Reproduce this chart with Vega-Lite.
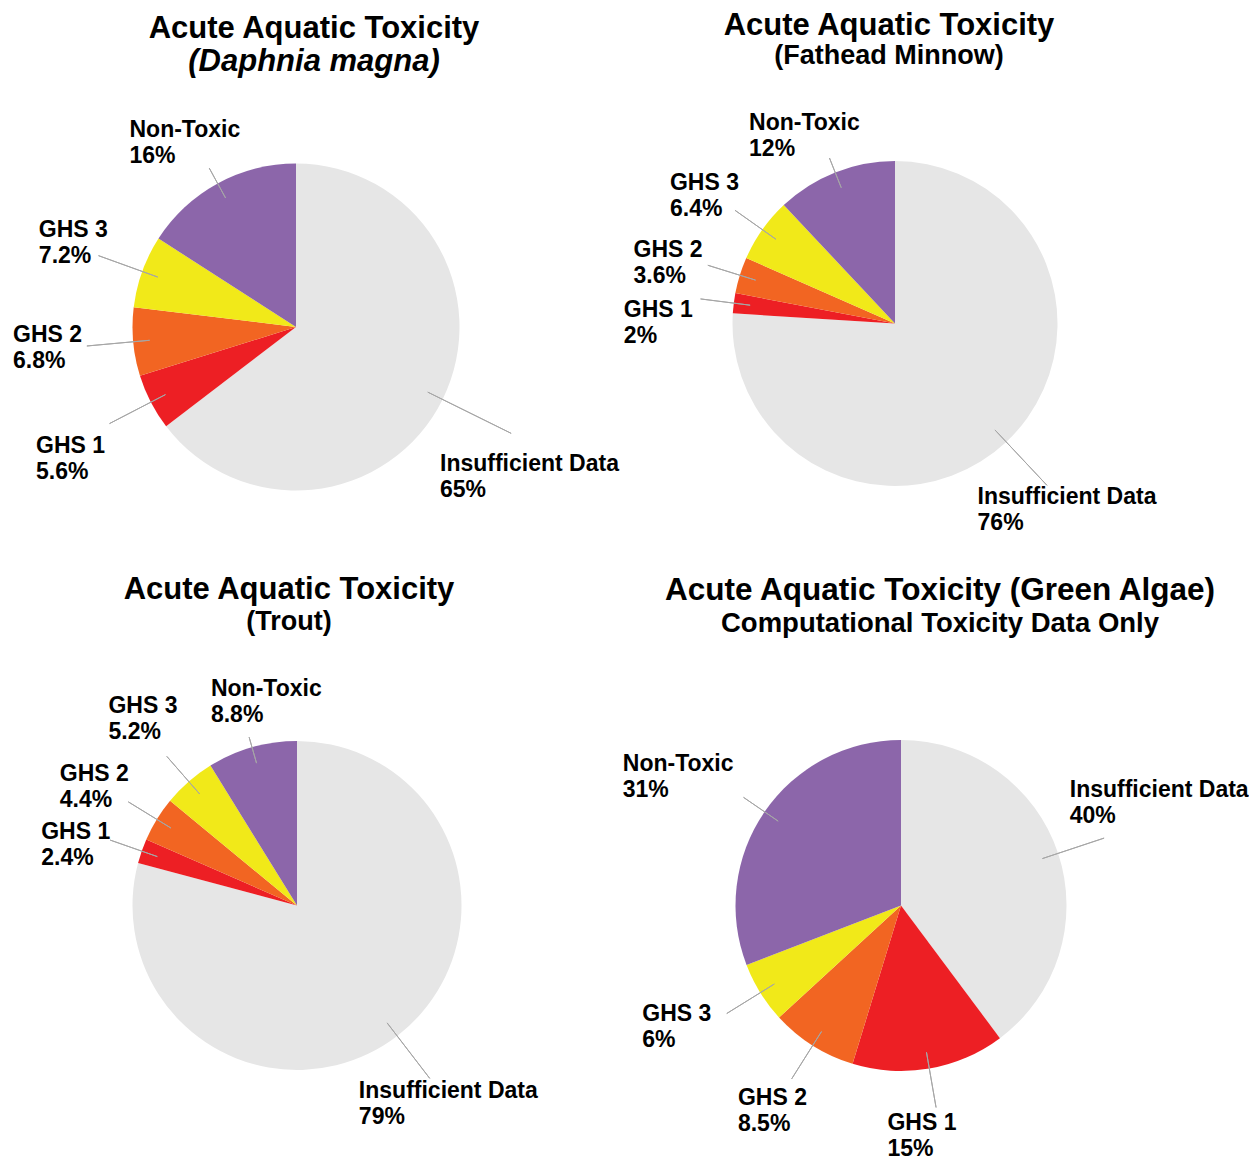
{
  "$schema": "https://vega.github.io/schema/vega-lite/v6.json",
  "padding": 0,
  "bounds": "flush",
  "spacing": 0,
  "columns": 2,
  "background": "white",
  "config": {
    "view": {"stroke": null},
    "font": "Liberation Sans",
    "title": {
      "font": "Liberation Sans",
      "fontSize": 31,
      "fontWeight": "bold",
      "color": "#000000",
      "subtitleFont": "Liberation Sans",
      "subtitleFontSize": 27,
      "subtitleFontWeight": "bold",
      "subtitleColor": "#000000",
      "subtitlePadding": 0,
      "anchor": "middle",
      "frame": "group"
    }
  },
  "data": {
    "values": [
      {"panel": "daphnia", "category": "Insufficient Data", "rank": 1, "share": 0.65},
      {"panel": "daphnia", "category": "GHS 1", "rank": 2, "share": 0.056},
      {"panel": "daphnia", "category": "GHS 2", "rank": 3, "share": 0.068},
      {"panel": "daphnia", "category": "GHS 3", "rank": 4, "share": 0.072},
      {"panel": "daphnia", "category": "Non-Toxic", "rank": 5, "share": 0.16},
      {"panel": "fathead", "category": "Insufficient Data", "rank": 1, "share": 0.76},
      {"panel": "fathead", "category": "GHS 1", "rank": 2, "share": 0.02},
      {"panel": "fathead", "category": "GHS 2", "rank": 3, "share": 0.036},
      {"panel": "fathead", "category": "GHS 3", "rank": 4, "share": 0.064},
      {"panel": "fathead", "category": "Non-Toxic", "rank": 5, "share": 0.12},
      {"panel": "trout", "category": "Insufficient Data", "rank": 1, "share": 0.79},
      {"panel": "trout", "category": "GHS 1", "rank": 2, "share": 0.024},
      {"panel": "trout", "category": "GHS 2", "rank": 3, "share": 0.044},
      {"panel": "trout", "category": "GHS 3", "rank": 4, "share": 0.052},
      {"panel": "trout", "category": "Non-Toxic", "rank": 5, "share": 0.088},
      {"panel": "algae", "category": "Insufficient Data", "rank": 1, "share": 0.40},
      {"panel": "algae", "category": "GHS 1", "rank": 2, "share": 0.15},
      {"panel": "algae", "category": "GHS 2", "rank": 3, "share": 0.085},
      {"panel": "algae", "category": "GHS 3", "rank": 4, "share": 0.06},
      {"panel": "algae", "category": "Non-Toxic", "rank": 5, "share": 0.31}
    ]
  },
  "resolve": {"scale": {"theta": "independent"}},
  "concat": [
    {
      "width": 592,
      "height": 654,
      "title": {"text": "Acute Aquatic Toxicity", "subtitle": "(Daphnia magna)", "subtitleFontSize": 31, "subtitleFontStyle": "italic", "subtitlePadding": 1.5, "offset": -77.5, "dx": 18},
      "transform": [{"filter": "datum.panel === 'daphnia'"}],
      "encoding": {
        "theta": {"field": "share", "type": "quantitative", "stack": true},
        "order": {"field": "rank", "type": "quantitative"},
        "color": {"field": "category", "type": "nominal", "legend": null,
          "scale": {"domain": ["Insufficient Data", "GHS 1", "GHS 2", "GHS 3", "Non-Toxic"], "range": ["#e6e6e6", "#ed1f24", "#f26522", "#f1e919", "#8c66aa"]}}
      },
      "layer": [
        {"mark": {"type": "arc", "outerRadius": 163.5}},
        {"transform": [
            {"stack": "share", "groupby": [], "sort": [{"field": "rank", "order": "ascending"}], "as": ["s0", "s1"]},
            {"fold": ["s0", "s1"], "as": ["edge", "pos"]},
            {"aggregate": [{"op": "mean", "field": "pos", "as": "mid"}], "groupby": ["category", "rank"]}
          ],
          "mark": {"type": "arc", "filled": false, "innerRadius": 147, "outerRadius": {"expr": "datum.category === 'Insufficient Data' ? 240 : datum.category === 'Non-Toxic' ? 181 : 210"}, "strokeWidth": 1},
          "encoding": {"theta": {"field": "mid", "type": "quantitative", "stack": null}, "theta2": {"field": "mid"}, "color": {"value": "#a6a6a6"}}},
        {"mark": {"type": "text", "radius": {"expr": "datum.category === 'Insufficient Data' ? 280 : datum.category === 'Non-Toxic' ? 214 : 250"}, "align": "left", "baseline": "alphabetic",
            "dx": {"expr": "datum.category === 'Insufficient Data' ? -107 : datum.category === 'Non-Toxic' ? -64 : datum.category === 'GHS 3' ? -22 : datum.category === 'GHS 2' ? -34 : -38"},
            "dy": {"expr": "-5 + (datum.category === 'Insufficient Data' ? 25 : datum.category === 'Non-Toxic' ? 3 : datum.category === 'GHS 3' ? 0 : datum.category === 'GHS 2' ? -3 : 16)"},
            "fontSize": 23, "fontWeight": "bold", "font": "Liberation Sans"},
          "encoding": {"text": {"field": "category", "type": "nominal"}, "color": {"value": "#000000"}}},
        {"mark": {"type": "text", "radius": {"expr": "datum.category === 'Insufficient Data' ? 280 : datum.category === 'Non-Toxic' ? 214 : 250"}, "align": "left", "baseline": "alphabetic",
            "dx": {"expr": "datum.category === 'Insufficient Data' ? -107 : datum.category === 'Non-Toxic' ? -64 : datum.category === 'GHS 3' ? -22 : datum.category === 'GHS 2' ? -34 : -38"},
            "dy": {"expr": "21 + (datum.category === 'Insufficient Data' ? 25 : datum.category === 'Non-Toxic' ? 3 : datum.category === 'GHS 3' ? 0 : datum.category === 'GHS 2' ? -3 : 16)"},
            "fontSize": 23, "fontWeight": "bold", "font": "Liberation Sans"},
          "encoding": {"text": {"field": "share", "type": "quantitative", "format": ".1~%"}, "color": {"value": "#000000"}}}
      ]
    },
    {
      "width": 602,
      "height": 647,
      "title": {"text": "Acute Aquatic Toxicity", "subtitle": "(Fathead Minnow)", "subtitlePadding": 1, "offset": -70, "dx": -6},
      "transform": [{"filter": "datum.panel === 'fathead'"}],
      "encoding": {
        "theta": {"field": "share", "type": "quantitative", "stack": true},
        "order": {"field": "rank", "type": "quantitative"},
        "color": {"field": "category", "type": "nominal", "legend": null,
          "scale": {"domain": ["Insufficient Data", "GHS 1", "GHS 2", "GHS 3", "Non-Toxic"], "range": ["#e6e6e6", "#ed1f24", "#f26522", "#f1e919", "#8c66aa"]}}
      },
      "layer": [
        {"mark": {"type": "arc", "outerRadius": 162.5}},
        {"transform": [
            {"stack": "share", "groupby": [], "sort": [{"field": "rank", "order": "ascending"}], "as": ["s0", "s1"]},
            {"fold": ["s0", "s1"], "as": ["edge", "pos"]},
            {"aggregate": [{"op": "mean", "field": "pos", "as": "mid"}], "groupby": ["category", "rank"]}
          ],
          "mark": {"type": "arc", "filled": false, "innerRadius": 146, "outerRadius": {"expr": "datum.category === 'Insufficient Data' ? 222 : datum.category === 'Non-Toxic' ? 178 : 196"}, "strokeWidth": 1},
          "encoding": {"theta": {"field": "mid", "type": "quantitative", "stack": null}, "theta2": {"field": "mid"}, "color": {"value": "#a6a6a6"}}},
        {"mark": {"type": "text", "radius": {"expr": "datum.category === 'Insufficient Data' ? 255 : datum.category === 'Non-Toxic' ? 209 : 234"}, "align": "left", "baseline": "alphabetic",
            "dx": {"expr": "datum.category === 'Insufficient Data' ? -92 : datum.category === 'Non-Toxic' ? -69 : datum.category === 'GHS 3' ? -34 : datum.category === 'GHS 2' ? -38 : -39"},
            "dy": {"expr": "-5 + (datum.category === 'Insufficient Data' ? 0 : datum.category === 'Non-Toxic' ? 6 : datum.category === 'GHS 3' ? 7 : datum.category === 'GHS 2' ? 8 : 28)"},
            "fontSize": 23, "fontWeight": "bold", "font": "Liberation Sans"},
          "encoding": {"text": {"field": "category", "type": "nominal"}, "color": {"value": "#000000"}}},
        {"mark": {"type": "text", "radius": {"expr": "datum.category === 'Insufficient Data' ? 255 : datum.category === 'Non-Toxic' ? 209 : 234"}, "align": "left", "baseline": "alphabetic",
            "dx": {"expr": "datum.category === 'Insufficient Data' ? -92 : datum.category === 'Non-Toxic' ? -69 : datum.category === 'GHS 3' ? -34 : datum.category === 'GHS 2' ? -38 : -39"},
            "dy": {"expr": "21 + (datum.category === 'Insufficient Data' ? 0 : datum.category === 'Non-Toxic' ? 6 : datum.category === 'GHS 3' ? 7 : datum.category === 'GHS 2' ? 8 : 28)"},
            "fontSize": 23, "fontWeight": "bold", "font": "Liberation Sans"},
          "encoding": {"text": {"field": "share", "type": "quantitative", "format": ".1~%"}, "color": {"value": "#000000"}}}
      ]
    },
    {
      "width": 594,
      "height": 503,
      "title": {"text": "Acute Aquatic Toxicity", "subtitle": "(Trout)", "offset": 18.5, "dx": -8},
      "transform": [{"filter": "datum.panel === 'trout'"}],
      "encoding": {
        "theta": {"field": "share", "type": "quantitative", "stack": true},
        "order": {"field": "rank", "type": "quantitative"},
        "color": {"field": "category", "type": "nominal", "legend": null,
          "scale": {"domain": ["Insufficient Data", "GHS 1", "GHS 2", "GHS 3", "Non-Toxic"], "range": ["#e6e6e6", "#ed1f24", "#f26522", "#f1e919", "#8c66aa"]}}
      },
      "layer": [
        {"mark": {"type": "arc", "outerRadius": 164.5}},
        {"transform": [
            {"stack": "share", "groupby": [], "sort": [{"field": "rank", "order": "ascending"}], "as": ["s0", "s1"]},
            {"fold": ["s0", "s1"], "as": ["edge", "pos"]},
            {"aggregate": [{"op": "mean", "field": "pos", "as": "mid"}], "groupby": ["category", "rank"]}
          ],
          "mark": {"type": "arc", "filled": false, "innerRadius": 148, "outerRadius": {"expr": "datum.category === 'Insufficient Data' ? 218 : datum.category === 'Non-Toxic' ? 175 : 198"}, "strokeWidth": 1},
          "encoding": {"theta": {"field": "mid", "type": "quantitative", "stack": null}, "theta2": {"field": "mid"}, "color": {"value": "#a6a6a6"}}},
        {"mark": {"type": "text", "radius": {"expr": "datum.category === 'Insufficient Data' ? 251 : datum.category === 'Non-Toxic' ? 205 : 235"}, "align": "left", "baseline": "alphabetic",
            "dx": {"expr": "datum.category === 'Insufficient Data' ? -91 : datum.category === 'Non-Toxic' ? -30 : datum.category === 'GHS 3' ? -34 : datum.category === 'GHS 2' ? -37 : -34"},
            "dy": {"expr": "-5 + (datum.category === 'Insufficient Data' ? -2 : datum.category === 'Non-Toxic' ? -7 : datum.category === 'GHS 3' ? -10 : datum.category === 'GHS 2' ? 4 : 16)"},
            "fontSize": 23, "fontWeight": "bold", "font": "Liberation Sans"},
          "encoding": {"text": {"field": "category", "type": "nominal"}, "color": {"value": "#000000"}}},
        {"mark": {"type": "text", "radius": {"expr": "datum.category === 'Insufficient Data' ? 251 : datum.category === 'Non-Toxic' ? 205 : 235"}, "align": "left", "baseline": "alphabetic",
            "dx": {"expr": "datum.category === 'Insufficient Data' ? -91 : datum.category === 'Non-Toxic' ? -30 : datum.category === 'GHS 3' ? -34 : datum.category === 'GHS 2' ? -37 : -34"},
            "dy": {"expr": "21 + (datum.category === 'Insufficient Data' ? -2 : datum.category === 'Non-Toxic' ? -7 : datum.category === 'GHS 3' ? -10 : datum.category === 'GHS 2' ? 4 : 16)"},
            "fontSize": 23, "fontWeight": "bold", "font": "Liberation Sans"},
          "encoding": {"text": {"field": "share", "type": "quantitative", "format": ".1~%"}, "color": {"value": "#000000"}}}
      ]
    },
    {
      "width": 614,
      "height": 503,
      "title": {"text": "Acute Aquatic Toxicity (Green Algae)", "subtitle": "Computational Toxicity Data Only", "fontSize": 31.5, "subtitleFontSize": 27.5, "offset": 17, "dx": 39},
      "transform": [{"filter": "datum.panel === 'algae'"}],
      "encoding": {
        "theta": {"field": "share", "type": "quantitative", "stack": true},
        "order": {"field": "rank", "type": "quantitative"},
        "color": {"field": "category", "type": "nominal", "legend": null,
          "scale": {"domain": ["Insufficient Data", "GHS 1", "GHS 2", "GHS 3", "Non-Toxic"], "range": ["#e6e6e6", "#ed1f24", "#f26522", "#f1e919", "#8c66aa"]}}
      },
      "layer": [
        {"mark": {"type": "arc", "outerRadius": 165.5}},
        {"transform": [
            {"stack": "share", "groupby": [], "sort": [{"field": "rank", "order": "ascending"}], "as": ["s0", "s1"]},
            {"fold": ["s0", "s1"], "as": ["edge", "pos"]},
            {"aggregate": [{"op": "mean", "field": "pos", "as": "mid"}], "groupby": ["category", "rank"]}
          ],
          "mark": {"type": "arc", "filled": false, "innerRadius": 149, "outerRadius": {"expr": "datum.category === 'Insufficient Data' ? 214 : datum.category === 'Non-Toxic' ? 191 : 205"}, "strokeWidth": 1},
          "encoding": {"theta": {"field": "mid", "type": "quantitative", "stack": null}, "theta2": {"field": "mid"}, "color": {"value": "#a6a6a6"}}},
        {"mark": {"type": "text", "radius": {"expr": "datum.category === 'Insufficient Data' ? 280 : datum.category === 'Non-Toxic' ? 255 : 242"}, "align": "left", "baseline": "alphabetic",
            "dx": {"expr": "datum.category === 'Insufficient Data' ? -97 : datum.category === 'Non-Toxic' ? -68 : datum.category === 'GHS 3' ? -53 : datum.category === 'GHS 2' ? -34 : -55"},
            "dy": {"expr": "-5 + (datum.category === 'Insufficient Data' ? -15 : datum.category === 'Non-Toxic' ? 15 : datum.category === 'GHS 3' ? -7 : datum.category === 'GHS 2' ? 0 : -9)"},
            "fontSize": 23, "fontWeight": "bold", "font": "Liberation Sans"},
          "encoding": {"text": {"field": "category", "type": "nominal"}, "color": {"value": "#000000"}}},
        {"mark": {"type": "text", "radius": {"expr": "datum.category === 'Insufficient Data' ? 280 : datum.category === 'Non-Toxic' ? 255 : 242"}, "align": "left", "baseline": "alphabetic",
            "dx": {"expr": "datum.category === 'Insufficient Data' ? -97 : datum.category === 'Non-Toxic' ? -68 : datum.category === 'GHS 3' ? -53 : datum.category === 'GHS 2' ? -34 : -55"},
            "dy": {"expr": "21 + (datum.category === 'Insufficient Data' ? -15 : datum.category === 'Non-Toxic' ? 15 : datum.category === 'GHS 3' ? -7 : datum.category === 'GHS 2' ? 0 : -9)"},
            "fontSize": 23, "fontWeight": "bold", "font": "Liberation Sans"},
          "encoding": {"text": {"field": "share", "type": "quantitative", "format": ".1~%"}, "color": {"value": "#000000"}}}
      ]
    }
  ]
}
